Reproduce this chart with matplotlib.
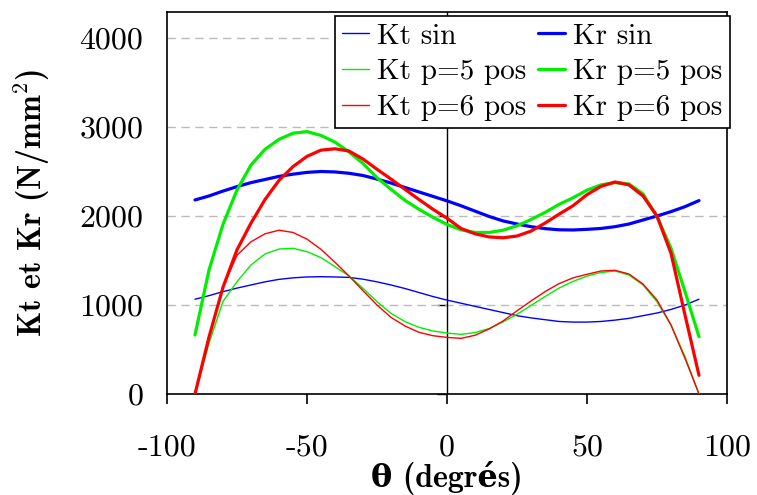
import numpy as np
import matplotlib
matplotlib.use("Agg")
import matplotlib.pyplot as plt

plt.rcParams["mathtext.fontset"] = "cm"

# angle (degres)
theta = [-90, -85, -80, -75, -70, -65, -60, -55, -50, -45, -40, -35, -30,
         -25, -20, -15, -10, -5, 0, 5, 10, 15, 20, 25, 30, 35, 40, 45, 50,
         55, 60, 65, 70, 75, 80, 85, 90]

kt_sin = [1065, 1105, 1150, 1190, 1225, 1260, 1288, 1305, 1315, 1318, 1315,
          1310, 1290, 1260, 1225, 1185, 1140, 1095, 1055, 1020, 985, 950, 915,
          880, 855, 835, 815, 808, 808, 815, 830, 850, 880, 910, 950, 1000, 1065]
kr_sin = [2180, 2225, 2280, 2330, 2375, 2410, 2445, 2470, 2490, 2500, 2495,
          2480, 2455, 2415, 2370, 2320, 2270, 2220, 2170, 2115, 2055, 1995,
          1945, 1910, 1880, 1858, 1845, 1843, 1850, 1860, 1880, 1910, 1955,
          2000, 2049, 2105, 2173]
kt_p5 = [0, 569, 1040, 1262, 1450, 1573, 1629, 1637, 1600, 1532, 1431, 1326,
         1187, 1037, 906, 813, 749, 708, 685, 670, 690, 735, 810, 895, 995,
         1095, 1190, 1265, 1325, 1365, 1382, 1337, 1225, 1037, 775, 420, 0]
kr_p5 = [663, 1393, 1906, 2292, 2573, 2749, 2861, 2930, 2948, 2905, 2830,
         2720, 2590, 2430, 2300, 2175, 2075, 1985, 1905, 1845, 1815, 1815,
         1840, 1890, 1960, 2040, 2130, 2205, 2290, 2350, 2375, 2360, 2248,
         1993, 1637, 1150, 644]
kt_p6 = [0, 640, 1200, 1560, 1710, 1800, 1840, 1815, 1740, 1625, 1480, 1326,
         1161, 1000, 861, 764, 693, 655, 636, 625, 660, 730, 820, 935, 1045,
         1150, 1240, 1305, 1345, 1382, 1390, 1348, 1236, 1056, 775, 400, 0]
kr_p6 = [0, 640, 1200, 1620, 1920, 2185, 2400, 2555, 2670, 2740, 2755, 2730,
         2640, 2525, 2415, 2300, 2185, 2075, 1975, 1860, 1800, 1765, 1755,
         1775, 1830, 1920, 2020, 2115, 2240, 2333, 2382, 2349, 2225, 2000,
         1581, 888, 210]

xticks = [-100, -50, 0, 50, 100]
xtick_labels = ["-100", "-50", "0", "50", "100"]
yticks = [0, 1000, 2000, 3000, 4000]
ytick_labels = ["0", "1000", "2000", "3000", "4000"]

cm = ["cmr10", "DejaVu Serif"]
cmb = ["cmb10", "DejaVu Serif"]

fig = plt.figure(figsize=(7.57, 4.95), dpi=100)
ax = fig.add_axes([167/757, 1 - 394/495, 560/757, 382/495])

thin = 1.0
thick = 2.3
kw = dict(zorder=3, solid_joinstyle="round", solid_capstyle="round")
ax.plot(theta, kt_sin, color="#0000ff", lw=thin, label="Kt sin", **kw)
ax.plot(theta, kt_p5, color="#00ee00", lw=thin, label="Kt p=5 pos", **kw)
ax.plot(theta, kt_p6, color="#ff0000", lw=thin, label="Kt p=6 pos", **kw)
ax.plot(theta, kr_sin, color="#0000ff", lw=thick, label="Kr sin", **kw)
ax.plot(theta, kr_p5, color="#00ee00", lw=thick, label="Kr p=5 pos", **kw)
ax.plot(theta, kr_p6, color="#ff0000", lw=thick, label="Kr p=6 pos", **kw)

ax.set_xlim(-100, 100)
ax.set_ylim(0, 4292)

# grid lines
for yv in yticks[1:]:
    ax.axhline(yv, color="#bbbbbb", lw=1.0, ls=(0, (6, 4)), zorder=1)

# vertical axis through 0
ax.axvline(0, color="black", lw=1.0, zorder=2)
sec = ax.secondary_yaxis(0.5)
sec.set_yticks(yticks)
sec.yaxis.set_ticks_position("left")
sec.tick_params(axis="y", direction="out", length=7, width=1.0,
                labelleft=False, labelright=False)
sec.spines["left"].set_visible(False)
sec.spines["right"].set_visible(False)

for s in ax.spines.values():
    s.set_linewidth(1.2)

ax.set_xticks(xticks, labels=xtick_labels, family=cm, fontsize=23)
ax.set_yticks(yticks, labels=ytick_labels, family=cm, fontsize=23)
ax.tick_params(axis="x", direction="out", length=7, width=1.2, pad=22)
ax.tick_params(axis="y", length=0, pad=17)

ax.set_xlabel("θ (degrés)", family=cmb, fontsize=23, fontweight="bold")
ax.set_ylabel(r"Kt et Kr (N/mm$^{\mathbf{2}}$)", family=cmb, fontsize=23,
              fontweight="bold")
ax.xaxis.set_label_coords(0.5, -0.175)
ax.yaxis.set_label_coords(-0.205, 0.5)

leg = ax.legend(ncol=2, loc="upper right", bbox_to_anchor=(1.005, 0.99),
                borderaxespad=0, prop={"family": cm, "size": 21},
                fancybox=False, framealpha=1, edgecolor="black",
                labelspacing=0.32, borderpad=0.25, handlelength=0.9,
                handletextpad=0.3, columnspacing=0.4)
leg.get_frame().set_linewidth(1.2)
leg.set_zorder(5)

fig.savefig("out.png", dpi=100)
